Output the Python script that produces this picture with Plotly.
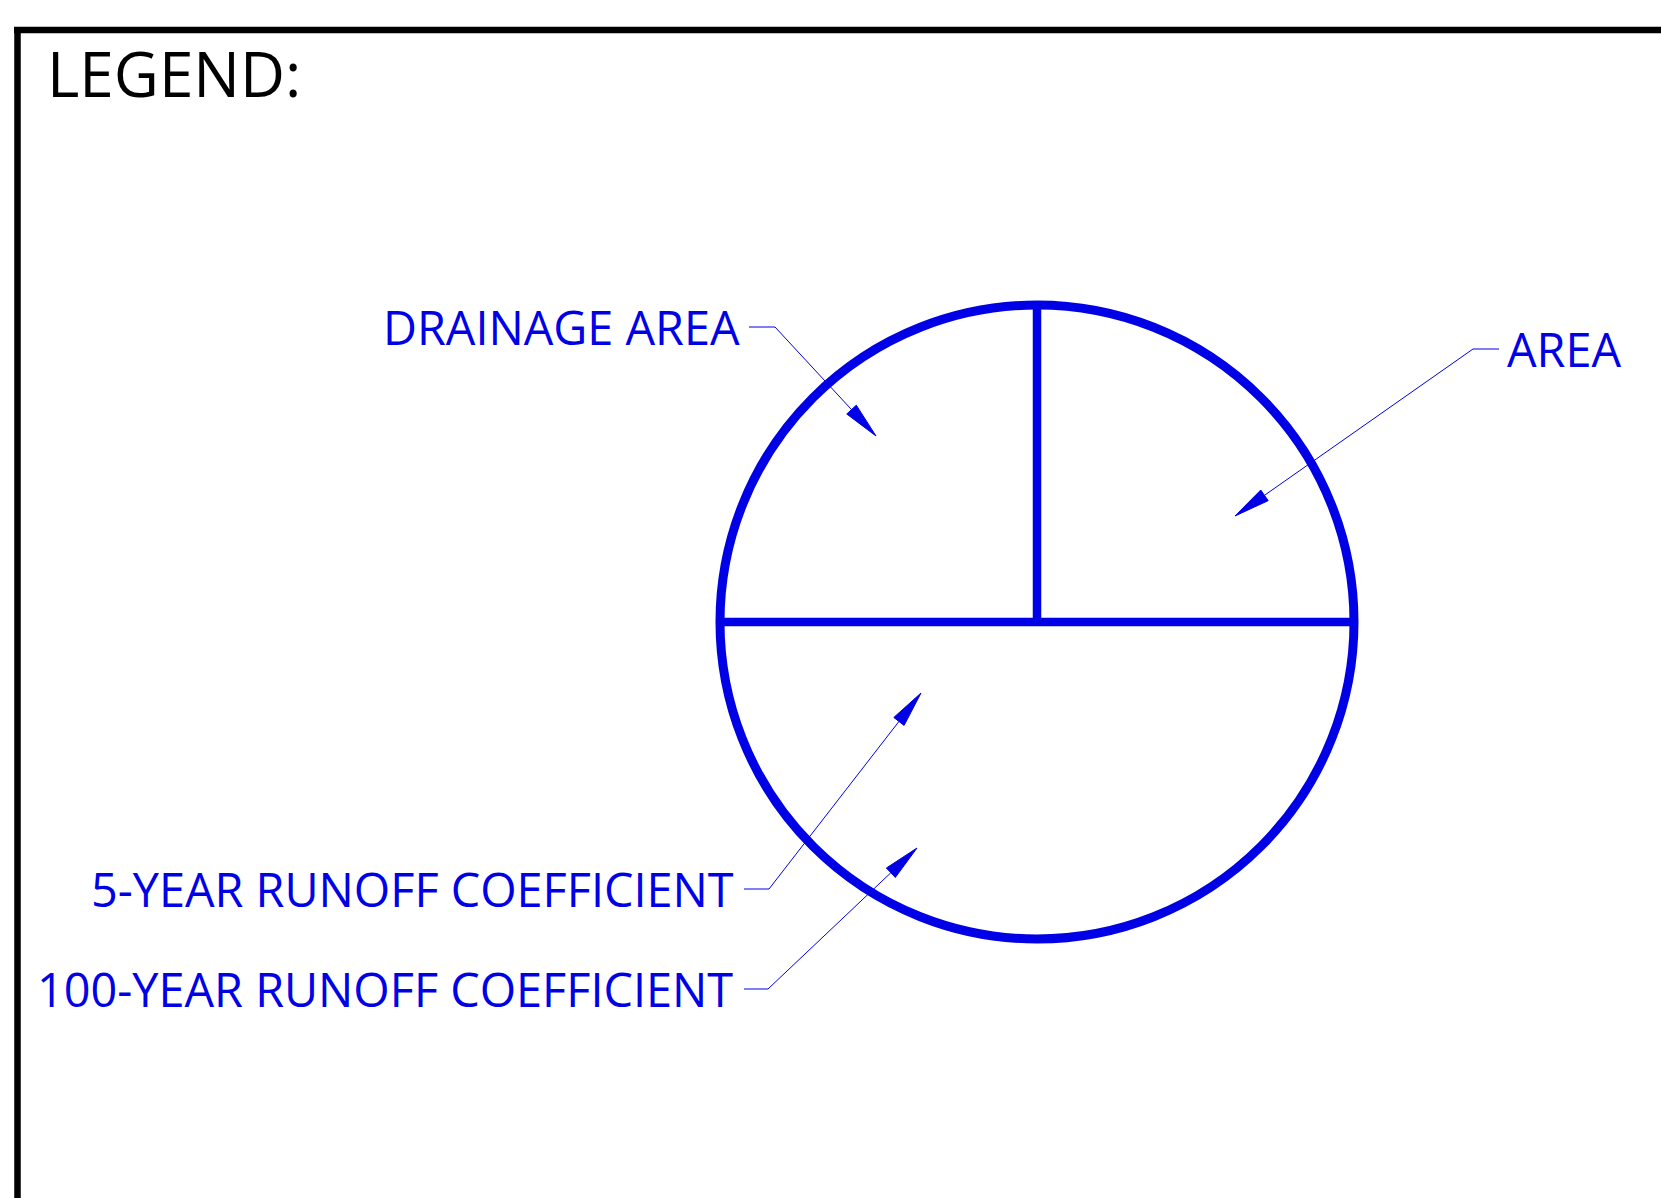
import numpy as np
import plotly.graph_objects as go

W, H = 1661, 1198
BLUE = "#0000E6"

# ---- diagram content (pixel coordinates of the drawing sheet) ----
title_text = "LEGEND:"
labels = ["DRAINAGE AREA", "AREA", "5-YEAR RUNOFF COEFFICIENT", "100-YEAR RUNOFF COEFFICIENT"]
label_side = ["right", "left", "right", "right"]          # which end of the text the leader attaches to
label_x = [741, 1506, 735, 734]
label_y = [327, 348.5, 889, 989]
leader_start_x = [749, 1499, 744, 744]
leader_elbow_x = [775, 1473, 769, 768]
leader_y = [327, 349, 889, 989]
tip_x = [876, 1235, 921, 917]
tip_y = [436, 516, 693, 848]

circle_cx, circle_cy, circle_r = [1037], [622], [317]

fig = go.Figure()

# frame border
fig.add_trace(go.Scatter(x=[W, 14, 17.5, 17.5], y=[30, 30, 30, H], mode="lines",
                         line=dict(color="black", width=6.5), hoverinfo="skip", showlegend=False))

# circle symbol
cx, cy, r = circle_cx[0], circle_cy[0], circle_r[0]
fig.add_shape(type="circle", xref="x", yref="y", x0=cx - r, x1=cx + r, y0=cy - r, y1=cy + r,
              line=dict(color=BLUE, width=9))
fig.add_trace(go.Scatter(x=[cx - r, cx + r], y=[cy, cy], mode="lines",
                         line=dict(color=BLUE, width=8.5), hoverinfo="skip", showlegend=False))
fig.add_trace(go.Scatter(x=[cx, cx], y=[cy - r, cy], mode="lines",
                         line=dict(color=BLUE, width=8.5), hoverinfo="skip", showlegend=False))

# leaders with arrowheads
AL, AW = 36, 13
for i in range(len(labels)):
    ex, ey = leader_elbow_x[i], leader_y[i]
    tx, ty = tip_x[i], tip_y[i]
    d = np.array([tx - ex, ty - ey], dtype=float)
    u = d / np.linalg.norm(d)
    n = np.array([-u[1], u[0]])
    base = np.array([tx, ty]) - AL * u
    fig.add_trace(go.Scatter(x=[leader_start_x[i], ex, base[0]], y=[leader_y[i], ey, base[1]],
                             mode="lines", line=dict(color=BLUE, width=1),
                             hoverinfo="skip", showlegend=False))
    c1 = base + n * AW / 2
    c2 = base - n * AW / 2
    fig.add_trace(go.Scatter(x=[tx, c1[0], c2[0], tx], y=[ty, c1[1], c2[1], ty],
                             mode="lines", fill="toself", fillcolor=BLUE,
                             line=dict(color=BLUE, width=1), hoverinfo="skip", showlegend=False))
    fig.add_annotation(x=label_x[i], y=label_y[i], xref="x", yref="y", text=labels[i],
                       showarrow=False, xanchor=label_side[i], yanchor="middle",
                       font=dict(family="Open Sans", size=46.8, color=BLUE), borderpad=0)

fig.add_annotation(x=46, y=73, xref="x", yref="y", text=title_text, showarrow=False,
                   xanchor="left", yanchor="middle", borderpad=0,
                   font=dict(family="Open Sans", size=62, color="black"))

fig.update_layout(
    width=W, height=H, margin=dict(l=0, r=0, t=0, b=0),
    paper_bgcolor="white", plot_bgcolor="white",
    xaxis=dict(range=[0, W], visible=False, fixedrange=True),
    yaxis=dict(range=[H, 0], visible=False, fixedrange=True),
    showlegend=False,
)

fig.write_html("out.html", config={"displayModeBar": False},
               post_script="document.body.style.margin='0';document.body.style.overflow='hidden';")
